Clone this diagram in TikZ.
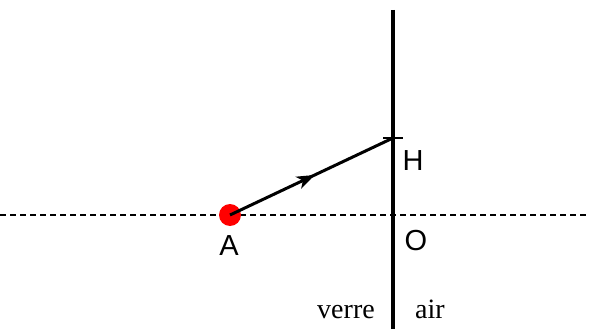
\documentclass[tikz,border=0pt]{standalone}
\usepackage{fontspec}
\setmainfont{Liberation Serif}
\newfontfamily\sansf{Liberation Sans}
\usetikzlibrary{arrows.meta,decorations.markings}
\begin{document}
\begin{tikzpicture}[x=1pt,y=-1pt,
  lbl/.style={font=\sansf\fontsize{29}{32}\selectfont, inner sep=0pt},
  medium/.style={font=\fontsize{28}{30}\selectfont, inner sep=0pt, anchor=base},
  axis/.style={line width=2.4pt, dash pattern=on 6pt off 4pt},
  wall/.style={line width=4pt},
  ray/.style={line width=3pt, postaction={decorate}, decoration={markings,
    mark=at position 0.52 with {\arrow{Stealth[length=18pt,width=13pt,inset=5pt]}}}}]
\useasboundingbox (0,0) rectangle (590,329);
\coordinate (L) at (0,215);
\coordinate (R) at (590,215);
\coordinate (T) at (393,10);
\coordinate (B) at (393,329);
\coordinate (H) at (393,138);
\coordinate (Hl) at (383,138);
\coordinate (Hr) at (403,138);
\draw[axis] (L) -- (R);
\draw[wall] (T) -- (B);
\draw[line width=2.4pt] (Hl) -- (Hr);
\node[circle, fill=red, minimum size=22pt, inner sep=0pt] (A) at (230,215) {};
\draw[ray] (A.center) -- (H);
\node[lbl] (la) at (229,246) {A};
\node[lbl] (lh) at (413,161) {H};
\node[lbl] (lo) at (416,241) {O};
\node[medium] (verre) at (346,318) {verre};
\node[medium] (air) at (430,318) {air};
\end{tikzpicture}
\end{document}
